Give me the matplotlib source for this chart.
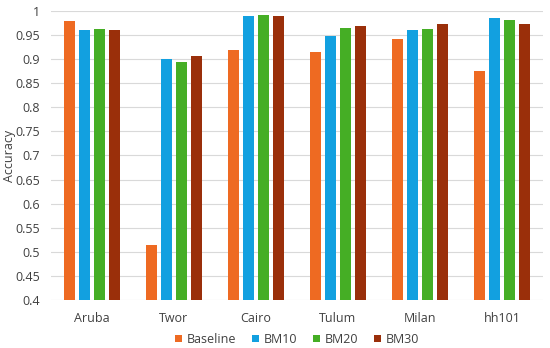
import matplotlib
matplotlib.use("Agg")
import matplotlib.pyplot as plt
import numpy as np

categories = ["Aruba", "Twor", "Cairo", "Tulum", "Milan", "hh101"]
series_names = ["Baseline", "BM10", "BM20", "BM30"]
baseline = [0.980, 0.515, 0.919, 0.914, 0.941, 0.876]
bm10 = [0.961, 0.900, 0.990, 0.948, 0.961, 0.986]
bm20 = [0.963, 0.894, 0.992, 0.965, 0.963, 0.982]
bm30 = [0.961, 0.907, 0.990, 0.969, 0.974, 0.973]
yticks = [0.4, 0.45, 0.5, 0.55, 0.6, 0.65, 0.7, 0.75, 0.8, 0.85, 0.9, 0.95, 1.0]
ytick_labels = ["0.4", "0.45", "0.5", "0.55", "0.6", "0.65", "0.7", "0.75", "0.8", "0.85", "0.9", "0.95", "1"]

colors = ["#EE6A22", "#12A0E0", "#45AE25", "#9A2F0A"]
plt.rcParams['font.family'] = ['Open Sans', 'DejaVu Sans']

fig = plt.figure(figsize=(5.5, 3.48), dpi=100)
ax = fig.add_axes([51/550, 1-300/348, (543-51)/550, (300-11)/348])

x = np.arange(len(categories))
step = 0.183
width = 0.146
data = [baseline, bm10, bm20, bm30]
for i, (name, vals) in enumerate(zip(series_names, data)):
    ax.bar(x + (i - 1.5) * step, np.array(vals) - 0.4, width, bottom=0.4,
           color=colors[i], label=name, zorder=3)

ax.set_xlim(-0.5, len(categories) - 0.5)
ax.set_ylim(0.4, 1.0)
ax.set_yticks(yticks)
ax.set_yticklabels(ytick_labels)
ax.set_xticks(x)
ax.set_xticklabels(categories)
ax.tick_params(axis='both', length=0, labelsize=9, colors="#404040")
ax.tick_params(axis='x', pad=9)
ax.tick_params(axis='y', pad=8)
ax.grid(axis='y', color="#D9D9D9", linewidth=0.8, zorder=0)
for s in ax.spines.values():
    s.set_visible(False)
ax.set_ylabel("Accuracy", fontsize=9, color="#404040")
ax.yaxis.set_label_coords(-0.071, 0.5)

ax.legend(loc='upper center', bbox_to_anchor=(0.5, -0.075), ncol=4, frameon=False,
          fontsize=9, handlelength=0.6, handleheight=0.6, handletextpad=0.4,
          columnspacing=1.2, labelcolor="#404040")

fig.savefig("out.png", dpi=100)
